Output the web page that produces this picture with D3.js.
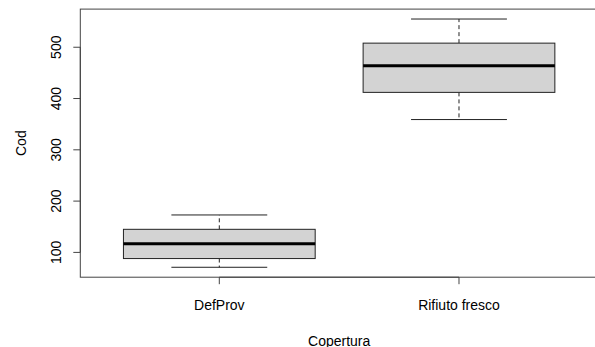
<!DOCTYPE html>
<html>
<head>
<meta charset="utf-8">
<script src="https://cdn.jsdelivr.net/npm/d3@7"></script>
<style>
  body { margin: 0; background: #fff; }
  text { font-family: "Liberation Sans", Arial, sans-serif; font-size: 14px; fill: #000; }
</style>
</head>
<body>
<script>
// Boxplot: Cod by Copertura

//Data
var categories = ["DefProv", "Rifiuto fresco"];
var whiskerLow = [71, 359];
var q1 = [88, 412];
var median = [117, 464];
var q3 = [145, 508];
var whiskerHigh = [173, 555];
var yTicks = [100, 200, 300, 400, 500];

//Width and height
var w = 595;
var h = 347;

//Plot region (right edge runs past the window, as in the original)
var plotL = 80.3, plotR = 598, plotT = 9.1, plotB = 277.2;

//R style 4% extension of the ranges
var ymin = d3.min(whiskerLow), ymax = d3.max(whiskerHigh);
var ypad = (ymax - ymin) * 0.04;

var x = d3.scaleLinear()
    .domain([0.5 - 0.08, categories.length + 0.5 + 0.08])
    .range([plotL, plotR]);

var y = d3.scaleLinear()
    .domain([ymin - ypad, ymax + ypad])
    .range([plotB, plotT]);

var svg = d3.select("body")
    .append("svg")
    .attr("width", w)
    .attr("height", h);

var lineCol = "#222";

//Boxes
var boxes = svg.append("g")
    .selectAll("g")
    .data(categories)
    .enter()
    .append("g");

//dashed whiskers
boxes.append("line")
    .attr("x1", function (d, i) { return x(i + 1); })
    .attr("x2", function (d, i) { return x(i + 1); })
    .attr("y1", function (d, i) { return y(q3[i]); })
    .attr("y2", function (d, i) { return y(whiskerHigh[i]); })
    .style("stroke", lineCol)
    .style("stroke-dasharray", "4,3");

boxes.append("line")
    .attr("x1", function (d, i) { return x(i + 1); })
    .attr("x2", function (d, i) { return x(i + 1); })
    .attr("y1", function (d, i) { return y(q1[i]); })
    .attr("y2", function (d, i) { return y(whiskerLow[i]); })
    .style("stroke", lineCol)
    .style("stroke-dasharray", "4,3");

//whisker caps
[whiskerHigh, whiskerLow].forEach(function (arr) {
    boxes.append("line")
        .attr("x1", function (d, i) { return x(i + 1 - 0.2); })
        .attr("x2", function (d, i) { return x(i + 1 + 0.2); })
        .attr("y1", function (d, i) { return y(arr[i]); })
        .attr("y2", function (d, i) { return y(arr[i]); })
        .style("stroke", lineCol);
});

//box
boxes.append("rect")
    .attr("x", function (d, i) { return x(i + 1 - 0.4); })
    .attr("width", function (d, i) { return x(i + 1 + 0.4) - x(i + 1 - 0.4); })
    .attr("y", function (d, i) { return y(q3[i]); })
    .attr("height", function (d, i) { return y(q1[i]) - y(q3[i]); })
    .style("fill", "#d3d3d3")
    .style("stroke", lineCol);

//median
boxes.append("line")
    .attr("x1", function (d, i) { return x(i + 1 - 0.4); })
    .attr("x2", function (d, i) { return x(i + 1 + 0.4); })
    .attr("y1", function (d, i) { return y(median[i]); })
    .attr("y2", function (d, i) { return y(median[i]); })
    .style("stroke", "#000")
    .style("stroke-width", 3);

//Frame
svg.append("rect")
    .attr("x", plotL)
    .attr("y", plotT)
    .attr("width", plotR - plotL)
    .attr("height", plotB - plotT)
    .style("fill", "none")
    .style("stroke", "#444");

//Y axis
var yAxis = svg.append("g");
yAxis.append("line")
    .attr("x1", plotL).attr("x2", plotL)
    .attr("y1", y(yTicks[0])).attr("y2", y(yTicks[yTicks.length - 1]))
    .style("stroke", "#444");
yAxis.selectAll(".tick")
    .data(yTicks)
    .enter()
    .append("line")
    .attr("x1", plotL - 7).attr("x2", plotL)
    .attr("y1", function (d) { return y(d); })
    .attr("y2", function (d) { return y(d); })
    .style("stroke", "#444");
yAxis.selectAll("text")
    .data(yTicks)
    .enter()
    .append("text")
    .attr("transform", function (d) { return "translate(61," + y(d) + ") rotate(-90)"; })
    .attr("text-anchor", "middle")
    .text(function (d) { return d; });

//X axis
var xAxis = svg.append("g");
xAxis.append("line")
    .attr("x1", x(1)).attr("x2", x(categories.length))
    .attr("y1", plotB).attr("y2", plotB)
    .style("stroke", "#444");
xAxis.selectAll(".tick")
    .data(categories)
    .enter()
    .append("line")
    .attr("x1", function (d, i) { return x(i + 1); })
    .attr("x2", function (d, i) { return x(i + 1); })
    .attr("y1", plotB).attr("y2", plotB + 7)
    .style("stroke", "#444");
xAxis.selectAll("text")
    .data(categories)
    .enter()
    .append("text")
    .attr("x", function (d, i) { return x(i + 1); })
    .attr("y", 310)
    .attr("text-anchor", "middle")
    .text(function (d) { return d; });

//Axis titles
svg.append("text")
    .attr("transform", "translate(26," + ((plotT + plotB) / 2) + ") rotate(-90)")
    .attr("text-anchor", "middle")
    .text("Cod");

svg.append("text")
    .attr("x", (plotL + plotR) / 2)
    .attr("y", 346)
    .attr("text-anchor", "middle")
    .text("Copertura");
</script>
</body>
</html>
